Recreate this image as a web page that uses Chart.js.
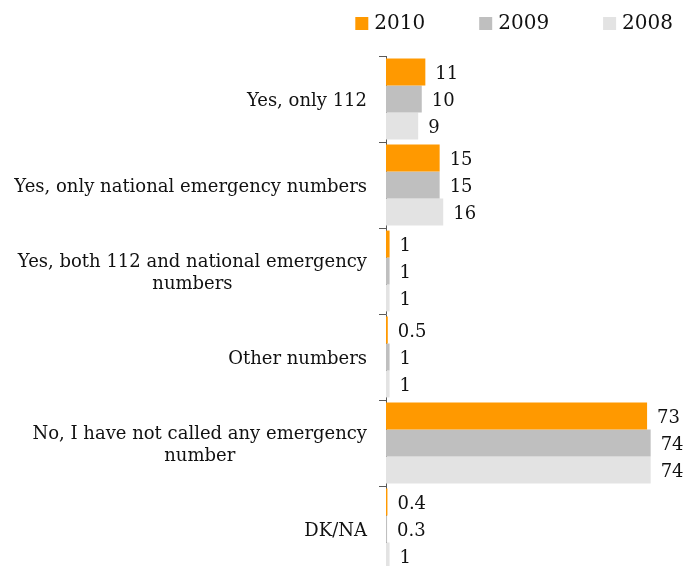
<!DOCTYPE html>
<html>
<head>
<meta charset="utf-8">
<script src="https://cdn.jsdelivr.net/npm/chart.js@4/dist/chart.umd.min.js"></script>
<style>
  html, body { margin: 0; padding: 0; background: #fff; overflow: hidden; }
  #wrap { position: relative; width: 693px; height: 572px; }
</style>
</head>
<body>
<div id="wrap"><canvas id="c"></canvas></div>
<script>
// Answers (one entry per line of the label)
const categories = [
  ['Yes, only 112'],
  ['Yes, only national emergency numbers'],
  ['Yes, both 112 and national emergency', 'numbers'],
  ['Other numbers'],
  ['No, I have not called any emergency', 'number'],
  ['DK/NA']
];
const seriesNames = ['2010', '2009', '2008'];
const values2010 = [11, 15, 1, 0.5, 73, 0.4];
const values2009 = [10, 15, 1, 1, 74, 0.3];
const values2008 = [9, 16, 1, 1, 74, 1];
const seriesColors = ['#FF9900', '#BFBFBF', '#E3E3E3'];

const FONT = '"DejaVu Serif", "Liberation Serif", serif';
const TEXT = '#111111';

// Category names: block right-aligned next to the axis, lines centred within it
const categoryLabels = {
  id: 'categoryLabels',
  afterDraw(chart) {
    const ctx = chart.ctx;
    const y = chart.scales.y;
    const right = y.right - 19;
    const lineH = 22;
    ctx.save();
    ctx.font = '18px ' + FONT;
    ctx.fillStyle = TEXT;
    ctx.textBaseline = 'middle';
    ctx.textAlign = 'center';
    chart.data.labels.forEach((lines, i) => {
      const cy = y.getPixelForValue(i) + 2;
      const widest = Math.max(...lines.map(l => ctx.measureText(l).width));
      const cx = right - widest / 2;
      const y0 = cy - (lines.length - 1) * lineH / 2;
      lines.forEach((l, k) => ctx.fillText(l, cx, y0 + k * lineH));
    });
    ctx.restore();
  }
};

// Value printed just past the end of each bar
const valueLabels = {
  id: 'valueLabels',
  afterDatasetsDraw(chart) {
    const ctx = chart.ctx;
    ctx.save();
    ctx.font = '18px ' + FONT;
    ctx.fillStyle = TEXT;
    ctx.textBaseline = 'middle';
    ctx.textAlign = 'left';
    chart.data.datasets.forEach((ds, di) => {
      chart.getDatasetMeta(di).data.forEach((bar, i) => {
        ctx.fillText(String(ds.data[i]), bar.x + 10, bar.y + 2);
      });
    });
    ctx.restore();
  }
};

// Legend row in the top right corner
const topLegend = {
  id: 'topLegend',
  afterDraw(chart) {
    const ctx = chart.ctx;
    const box = 13, gap = 6, spacing = 54, endX = 673, cy = 23;
    ctx.save();
    ctx.font = '20px ' + FONT;
    ctx.textBaseline = 'middle';
    ctx.textAlign = 'left';
    const items = chart.data.datasets.map(ds => ({
      label: ds.label, color: ds.backgroundColor, w: ctx.measureText(ds.label).width
    }));
    const total = items.reduce((s, it) => s + box + gap + it.w, 0) + spacing * (items.length - 1);
    let x = endX - total;
    items.forEach(it => {
      ctx.fillStyle = it.color;
      ctx.fillRect(x, cy - 6, box, box);
      ctx.fillStyle = TEXT;
      ctx.fillText(it.label, x + box + gap, cy + 1);
      x += box + gap + it.w + spacing;
    });
    ctx.restore();
  }
};

const seriesValues = [values2010, values2009, values2008];

new Chart(document.getElementById('c'), {
  type: 'bar',
  data: {
    labels: categories,
    datasets: seriesNames.map((name, i) => ({
      label: name,
      data: seriesValues[i],
      backgroundColor: seriesColors[i],
      borderWidth: 0,
      barPercentage: 1,
      categoryPercentage: 0.94
    }))
  },
  options: {
    indexAxis: 'y',
    responsive: true,
    maintainAspectRatio: false,
    animation: false,
    layout: { padding: { top: 56, right: 3, bottom: 0, left: 0 } },
    plugins: {
      legend: { display: false },
      tooltip: { enabled: false }
    },
    scales: {
      x: { display: false, min: 0, max: 85 },
      y: {
        grid: {
          display: true,
          drawOnChartArea: false,
          drawTicks: true,
          tickLength: 7,
          offset: true,
          color: '#595959'
        },
        border: { display: true, color: '#595959', width: 1 },
        ticks: { display: false },
        afterFit(scale) { scale.width = 386; }
      }
    }
  },
  plugins: [categoryLabels, valueLabels, topLegend]
});
</script>
</body>
</html>
